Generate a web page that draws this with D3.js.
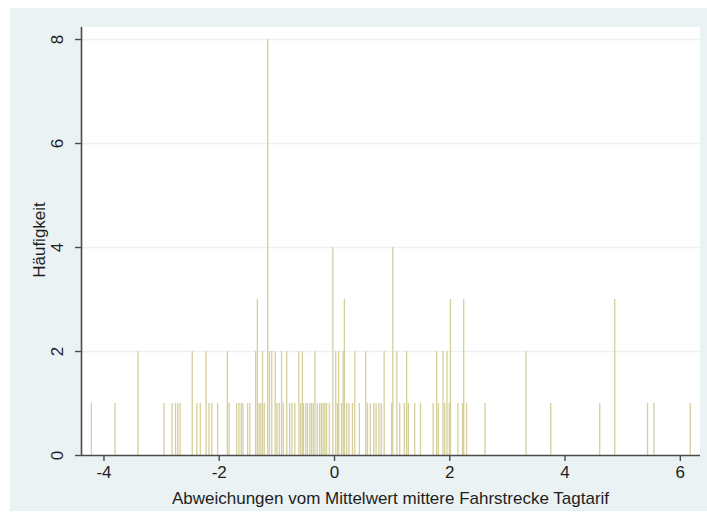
<!DOCTYPE html>
<html>
<head>
<meta charset="utf-8">
<script src="https://cdn.jsdelivr.net/npm/d3@7/dist/d3.min.js"></script>
<style>
  body { margin: 0; background: #fff; }
  text { font-family: "Liberation Sans", Arial, sans-serif; fill: #1e1e1e; }
</style>
</head>
<body>
<svg id="chart" width="707" height="519"></svg>
<script>
// deviations (x values) grouped by their frequency
const freq1 = [-4.21, -3.80, -2.95, -2.81, -2.75, -2.71, -2.67, -2.38, -2.32, -2.17, -2.12, -2.02,
  -1.82, -1.69, -1.65, -1.61, -1.58, -1.50, -1.46, -1.30, -1.27, -1.21, -0.99, -0.95, -0.88,
  -0.77, -0.73, -0.68, -0.58, -0.53, -0.49, -0.46, -0.42, -0.39, -0.36, -0.29, -0.25, -0.22,
  -0.19, -0.16, -0.13, -0.08, 0.06, 0.13, 0.22, 0.26, 0.32, 0.44, 0.58, 0.63, 0.69, 0.73, 0.78,
  0.82, 1.00, 1.14, 1.22, 1.29, 1.40, 1.50, 1.72, 1.81, 1.92, 2.00, 2.15, 2.23, 2.30, 2.62,
  3.76, 4.61, 5.44, 5.55, 6.18];
const freq2 = [-3.40, -2.46, -2.22, -1.85, -1.36, -1.24, -1.12, -1.08, -1.02, -0.91, -0.82,
  -0.61, -0.55, -0.33, 0.03, 0.08, 0.16, 0.36, 0.55, 0.87, 1.09, 1.26, 1.78, 1.89, 1.96, 3.33];
const freq3 = [-1.33, 0.18, 2.02, 2.25, 4.87];
const freq4 = [-0.02, 1.02];
const freq8 = [-1.15];

const xTicks = [-4, -2, 0, 2, 4, 6];
const yTicks = [0, 2, 4, 6, 8];
const xTitle = "Abweichungen vom Mittelwert mittere Fahrstrecke Tagtarif";
const yTitle = "Häufigkeit";

const spikes = [].concat(
  freq1.map(v => ({x: v, n: 1})),
  freq2.map(v => ({x: v, n: 2})),
  freq3.map(v => ({x: v, n: 3})),
  freq4.map(v => ({x: v, n: 4})),
  freq8.map(v => ({x: v, n: 8}))
);

const svg = d3.select("#chart");
const W = 707;
const plot = {left: 81, right: 700, top: 27, bottom: 455};
const fs = 17;

const x = d3.scaleLinear().domain([-4.39, 6.35]).range([plot.left, plot.right]);
const y = d3.scaleLinear().domain([0, 8]).range([plot.bottom, 39]);

// graph region
svg.append("rect")
  .attr("x", 10).attr("y", 8)
  .attr("width", W - 10).attr("height", 503)
  .attr("fill", "#eaf2f3");

// plot region
svg.append("rect")
  .attr("x", plot.left).attr("y", plot.top)
  .attr("width", plot.right - plot.left).attr("height", plot.bottom - plot.top)
  .attr("fill", "#fff");

// grid lines
svg.append("g")
  .selectAll("line")
  .data(yTicks.filter(d => d > 0))
  .enter().append("line")
    .attr("x1", plot.left).attr("x2", plot.right)
    .attr("y1", d => Math.round(y(d)) + 0.5)
    .attr("y2", d => Math.round(y(d)) + 0.5)
    .attr("stroke", "#eaf2f3")
    .attr("stroke-width", 1.5);

// spikes
svg.append("g")
  .selectAll("line")
  .data(spikes)
  .enter().append("line")
    .attr("x1", d => x(d.x)).attr("x2", d => x(d.x))
    .attr("y1", y(0)).attr("y2", d => y(d.n))
    .attr("stroke", "#d5cf9c")
    .attr("stroke-width", 1.3);

// axes
const xAxis = svg.append("g")
  .attr("transform", `translate(0,${plot.bottom})`)
  .call(d3.axisBottom(x).tickValues(xTicks).tickSize(6).tickSizeOuter(0).tickPadding(5)
    .tickFormat(d => d < 0 ? "-" + Math.abs(d) : d));
xAxis.select(".domain").attr("stroke", "#4a4a4a").attr("stroke-width", 1.6)
  .attr("d", `M${plot.left},0.5H${plot.right}`);
xAxis.selectAll(".tick line").attr("stroke", "#4a4a4a").attr("stroke-width", 1.4);
xAxis.selectAll(".tick text").attr("font-size", fs).style("fill", "#1e1e1e")
  .attr("font-family", "Liberation Sans, Arial, sans-serif");

const yAxis = svg.append("g")
  .attr("transform", `translate(${plot.left},0)`)
  .call(d3.axisLeft(y).tickValues(yTicks).tickSize(6).tickSizeOuter(0).tickFormat(d3.format("d")));
yAxis.select(".domain").attr("stroke", "#4a4a4a").attr("stroke-width", 1.6)
  .attr("d", `M0.5,${plot.top}V${plot.bottom}`);
yAxis.selectAll(".tick line").attr("stroke", "#4a4a4a").attr("stroke-width", 1.4);
yAxis.selectAll(".tick text")
  .attr("font-size", fs).style("fill", "#1e1e1e")
  .attr("font-family", "Liberation Sans, Arial, sans-serif")
  .attr("x", null)
  .attr("text-anchor", "middle")
  .attr("transform", "translate(-18,0) rotate(-90)")
  .attr("dy", "0em");

// axis titles
svg.append("text")
  .attr("x", (plot.left + plot.right) / 2)
  .attr("y", 504)
  .attr("text-anchor", "middle")
  .attr("font-size", fs)
  .text(xTitle);

svg.append("text")
  .attr("transform", `translate(45,240) rotate(-90)`)
  .attr("text-anchor", "middle")
  .attr("font-size", fs)
  .text(yTitle);
</script>
</body>
</html>
